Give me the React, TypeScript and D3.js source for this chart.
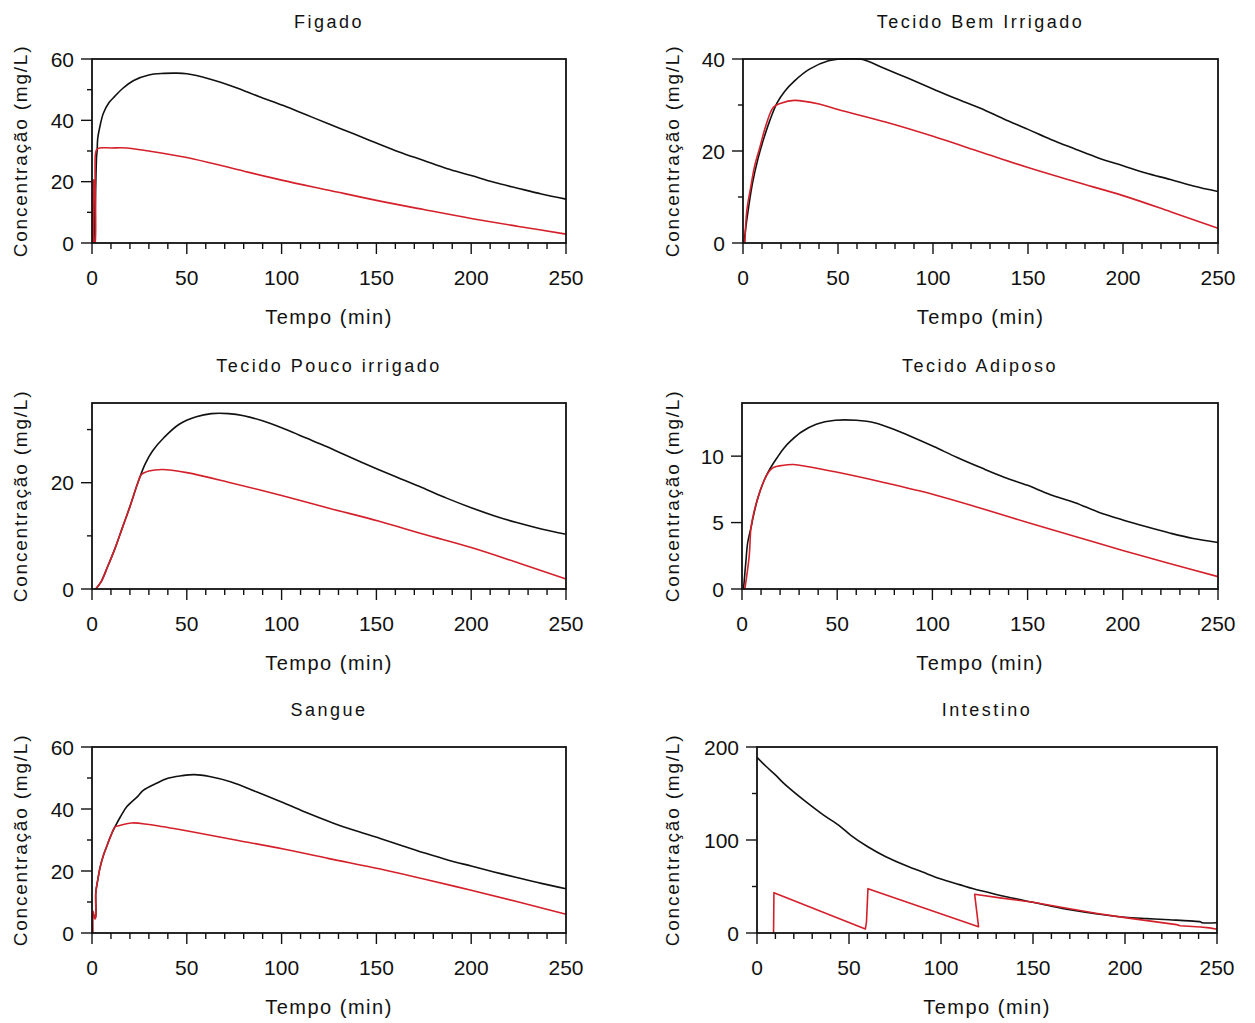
import React from 'react';
import * as d3 from 'd3';

type P = [number, number];

// ---------- tick labels ----------
const timeTicks = [0, 50, 100, 150, 200, 250];
const timeMinorTicks = [10, 20, 30, 40, 60, 70, 80, 90, 110, 120, 130, 140, 160, 170, 180, 190, 210, 220, 230, 240];

const figadoYTicks = [0, 20, 40, 60];
const figadoYMinor = [10, 30, 50];
const bemYTicks = [0, 20, 40];
const bemYMinor = [10, 30];
const poucoYTicks = [0, 20];
const poucoYMinor = [10, 30];
const adiposoYTicks = [0, 5, 10];
const adiposoYMinor: number[] = [];
const sangueYTicks = [0, 20, 40, 60];
const sangueYMinor = [10, 30, 50];
const intestinoYTicks = [0, 100, 200];
const intestinoYMinor = [50, 150];

// ---------- series (time min, concentration mg/L) ----------
const figadoBlack: P[] = [
  [0.6, 0], [0.75, 20.5], [1.2, 0], [2.4, 28], [2.7, 30], [3, 34], [4, 37.5], [6, 42.3], [9, 45.8], [12, 47.8],
  [16, 50.3], [22, 53], [30, 54.8], [38, 55.3], [44, 55.4], [50, 55.2], [62, 53.5], [75, 50.9], [88, 47.8],
  [101, 44.8], [113, 41.8], [125, 38.8], [138, 35.6], [150, 32.6], [162, 29.7], [175, 26.9], [187, 24.3],
  [200, 22], [212, 19.8], [225, 17.8], [237, 16], [250, 14.3]
];
const figadoRed: P[] = [
  [0.8, 0], [1.0, 20.5], [1.3, 0], [1.6, 0], [1.8, 29], [2.5, 30.5], [4, 31], [10, 31], [18, 31], [30, 30],
  [50, 27.9], [75, 24.2], [100, 20.5], [125, 17.2], [150, 13.9], [175, 10.9], [200, 8.0], [225, 5.4], [250, 2.9]
];

const bemBlack: P[] = [
  [0.5, 0], [2, 5], [5, 13], [8, 18.5], [11, 22.8], [14, 26.5], [18, 30.5], [22, 33], [27, 35.2], [35, 37.8],
  [45, 39.6], [52, 40], [63, 39.9], [73, 38.2], [87, 35.8], [100, 33.5], [112, 31.4], [125, 29.3], [137, 27],
  [150, 24.7], [162, 22.5], [175, 20.4], [187, 18.5], [200, 16.8], [212, 15.2], [225, 13.8], [237, 12.4], [250, 11.2]
];
const bemRed: P[] = [
  [1, 0], [2, 7], [4, 12], [6, 16.5], [9, 21], [12, 25.5], [16, 29.5], [20, 30.4], [27, 31], [40, 30.2],
  [50, 29], [75, 26.3], [100, 23.2], [125, 19.8], [150, 16.4], [175, 13.3], [200, 10.3], [225, 6.8], [250, 3.2]
];

const poucoBlack: P[] = [
  [2, 0], [5, 1.5], [8, 4], [12, 7.5], [16, 11.5], [20, 15.5], [24, 19.8], [28, 23.5], [32, 26], [38, 28.5],
  [46, 31], [55, 32.4], [63, 33], [72, 33], [80, 32.6], [93, 31.3], [103, 29.9], [113, 28.4], [123, 26.9],
  [133, 25.3], [151, 22.5], [163, 20.7], [174, 19.1], [187, 17.1], [200, 15.3], [212, 13.8], [224, 12.5],
  [237, 11.3], [250, 10.3]
];
const poucoRed: P[] = [
  [2, 0], [5, 1.5], [8, 4], [12, 7.5], [16, 11.5], [20, 15.5], [24, 19.8], [26, 21.5], [30, 22.2], [37, 22.5],
  [50, 21.9], [73, 20], [101, 17.5], [125, 15.2], [151, 12.8], [175, 10.3], [200, 7.8], [225, 4.9], [250, 1.9]
];

const adiposoBlack: P[] = [
  [0.8, 0], [2, 2], [3, 3.5], [4.7, 4.6], [6, 5.5], [8.2, 6.8], [11.7, 8.2], [14.5, 9], [18.5, 9.9], [22, 10.6],
  [26, 11.2], [31, 11.8], [39, 12.4], [49, 12.7], [60, 12.7], [70, 12.5], [80, 12], [90, 11.4], [101, 10.7],
  [113, 9.9], [126, 9.1], [138, 8.4], [150, 7.8], [162, 7.1], [175, 6.5], [187, 5.8], [200, 5.2], [212, 4.7],
  [225, 4.2], [237, 3.8], [250, 3.5]
];
const adiposoRed: P[] = [
  [1.5, 0], [3.8, 2.5], [4.7, 4.6], [6, 5.6], [8.2, 6.8], [11.7, 8.2], [14.5, 8.9], [16.5, 9.15], [21, 9.3],
  [27, 9.37], [35, 9.2], [49.5, 8.8], [75, 8.0], [101, 7.1], [125, 6.1], [150, 5.0], [175, 3.95], [200, 2.9],
  [225, 1.9], [250, 0.93]
];

const sangueBlack: P[] = [
  [0.3, 0], [0.6, 6], [1.2, 5.5], [1.9, 5], [2, 13], [3, 17], [4.2, 21], [6, 25], [7.7, 27.8], [10, 31.5],
  [12.1, 34.2], [15, 37.5], [18.3, 40.7], [24, 44], [27, 46], [34, 48.3], [40, 49.9], [47, 50.7], [54, 51.1],
  [62, 50.5], [73, 48.8], [87, 45.5], [101, 42], [114, 38.6], [127, 35.5], [140, 32.8], [152, 30.5], [164, 28.1],
  [176, 25.7], [188, 23.5], [200, 21.6], [212, 19.7], [224, 17.9], [237, 16], [250, 14.3]
];
const sangueRed: P[] = [
  [0.4, 0], [0.6, 7], [1.5, 4.5], [1.9, 5], [2, 13], [3, 17], [4.2, 21], [6, 25], [7.7, 27.8], [10, 31.5],
  [12.1, 34.2], [14, 34.6], [21, 35.5], [30, 35], [50.5, 32.9], [75, 30.1], [101, 27.1], [125, 24], [151.5, 20.7],
  [175, 17.4], [200, 13.8], [225, 10], [250, 6.05]
];

const intestinoBlack: P[] = [
  [0, 189], [5, 179], [10, 170], [14, 162], [18, 155], [26, 142], [36, 127], [45, 115], [51, 105], [60, 93],
  [70, 82], [81.5, 72], [90, 65.5], [100, 58], [110, 52], [117.6, 47.5], [130, 41.5], [140, 37], [150, 33],
  [160, 28.8], [170, 25], [185, 20.5], [200, 17], [212, 15.5], [224, 14.2], [235, 13], [241, 12], [242, 11], [250, 11]
];
const intestinoRed: P[] = [
  [9, 0], [9.2, 43.4], [58.9, 4.3], [59.5, 12], [60.3, 47.7], [120.4, 6.8], [118.3, 41.6], [132, 37.8],
  [150, 33], [170, 26], [185, 21], [200, 16.5], [215, 12.5], [228, 9], [230, 7.8], [241, 6.5], [246, 5.5], [250, 4]
];

// ---------- styles ----------
const BLACK = '#111111';
const RED = '#d4202a';
const FONT = '"Liberation Sans", Arial, sans-serif';

interface PanelProps {
  left: number; right: number; top: number; bottom: number;
  title: string;
  yMax: number;
  yTicks: number[];
  yMinor: number[];
  black: P[];
  red: P[];
  yTitleX: number;
  redLinear?: boolean;
}

function Panel(p: PanelProps) {
  const xs = d3.scaleLinear().domain([0, 250]).range([p.left, p.right]);
  const ys = d3.scaleLinear().domain([0, p.yMax]).range([p.bottom, p.top]);
  const smooth = d3.line<P>().x(d => xs(d[0])).y(d => ys(d[1])).curve(d3.curveCatmullRom.alpha(0.5));
  const straight = d3.line<P>().x(d => xs(d[0])).y(d => ys(d[1]));
  const cx = (p.left + p.right) / 2;
  const cy = (p.top + p.bottom) / 2;
  return (
    <g>
      <text x={cx} y={p.top - 31} textAnchor="middle" fontSize={18} letterSpacing={2.5}
        fontFamily={FONT} fill="#111">{p.title}</text>
      <defs>
        <clipPath id={'clip' + p.left + p.top}>
          <rect x={p.left} y={p.top - 1} width={p.right - p.left + 2} height={p.bottom - p.top + 1} />
        </clipPath>
      </defs>
      {/* series */}
      <g clipPath={`url(#clip${p.left}${p.top})`}>
        <path d={smooth(p.black) || ''} fill="none" stroke={BLACK} strokeWidth={1.6} strokeLinejoin="round" />
        <path d={(p.redLinear ? straight(p.red) : smooth(p.red)) || ''} fill="none" stroke={RED} strokeWidth={1.6}
          strokeLinejoin="round" />
      </g>
      {/* frame */}
      <rect x={p.left} y={p.top} width={p.right - p.left} height={p.bottom - p.top}
        fill="none" stroke="#111" strokeWidth={1.8} />
      {/* x ticks */}
      {timeTicks.map(t => (
        <g key={'xt' + t}>
          <line x1={xs(t)} x2={xs(t)} y1={p.bottom} y2={p.bottom + 11} stroke="#111" strokeWidth={1.4} />
          <text x={xs(t)} y={p.bottom + 42} textAnchor="middle" fontSize={21} fontFamily={FONT} fill="#111">{t}</text>
        </g>
      ))}
      {timeMinorTicks.map(t => (
        <line key={'xm' + t} x1={xs(t)} x2={xs(t)} y1={p.bottom} y2={p.bottom + 6} stroke="#111" strokeWidth={1.4} />
      ))}
      {/* y ticks */}
      {p.yTicks.map(v => (
        <g key={'yt' + v}>
          <line x1={p.left - 11} x2={p.left} y1={ys(v)} y2={ys(v)} stroke="#111" strokeWidth={1.4} />
          <text x={p.left - 18} y={ys(v) + 7.5} textAnchor="end" fontSize={21} fontFamily={FONT} fill="#111">{v}</text>
        </g>
      ))}
      {p.yMinor.map(v => (
        <line key={'ym' + v} x1={p.left - 5} x2={p.left} y1={ys(v)} y2={ys(v)} stroke="#111" strokeWidth={1.4} />
      ))}
      {/* axis titles */}
      <text x={cx} y={p.bottom + 81} textAnchor="middle" fontSize={20} letterSpacing={1.5}
        fontFamily={FONT} fill="#111">Tempo (min)</text>
      <text transform={`translate(${p.yTitleX},${cy}) rotate(-90)`} textAnchor="middle" fontSize={19}
        letterSpacing={1.8} fontFamily={FONT} fill="#111">Concentração (mg/L)</text>
    </g>
  );
}

export default function App() {
  return (
    <svg width={1255} height={1023} style={{ position: 'absolute', left: 0, top: 0, background: '#fff' }}>
      <rect x={0} y={0} width={1255} height={1023} fill="#fff" />
      <Panel left={92} right={566} top={59} bottom={243} title="Figado" yMax={60}
        yTicks={figadoYTicks} yMinor={figadoYMinor} black={figadoBlack} red={figadoRed} yTitleX={27} />
      <Panel left={743} right={1218} top={59} bottom={243} title="Tecido Bem Irrigado" yMax={40}
        yTicks={bemYTicks} yMinor={bemYMinor} black={bemBlack} red={bemRed} yTitleX={679} />
      <Panel left={92} right={566} top={403} bottom={589} title="Tecido Pouco irrigado" yMax={35}
        yTicks={poucoYTicks} yMinor={poucoYMinor} black={poucoBlack} red={poucoRed} yTitleX={27} />
      <Panel left={742} right={1218} top={403} bottom={589} title="Tecido Adiposo" yMax={14}
        yTicks={adiposoYTicks} yMinor={adiposoYMinor} black={adiposoBlack} red={adiposoRed} yTitleX={679} />
      <Panel left={92} right={566} top={747} bottom={933} title="Sangue" yMax={60}
        yTicks={sangueYTicks} yMinor={sangueYMinor} black={sangueBlack} red={sangueRed} yTitleX={27} />
      <Panel left={757} right={1217} top={747} bottom={933} title="Intestino" yMax={200}
        yTicks={intestinoYTicks} yMinor={intestinoYMinor} black={intestinoBlack} red={intestinoRed}
        yTitleX={679} redLinear />
    </svg>
  );
}
